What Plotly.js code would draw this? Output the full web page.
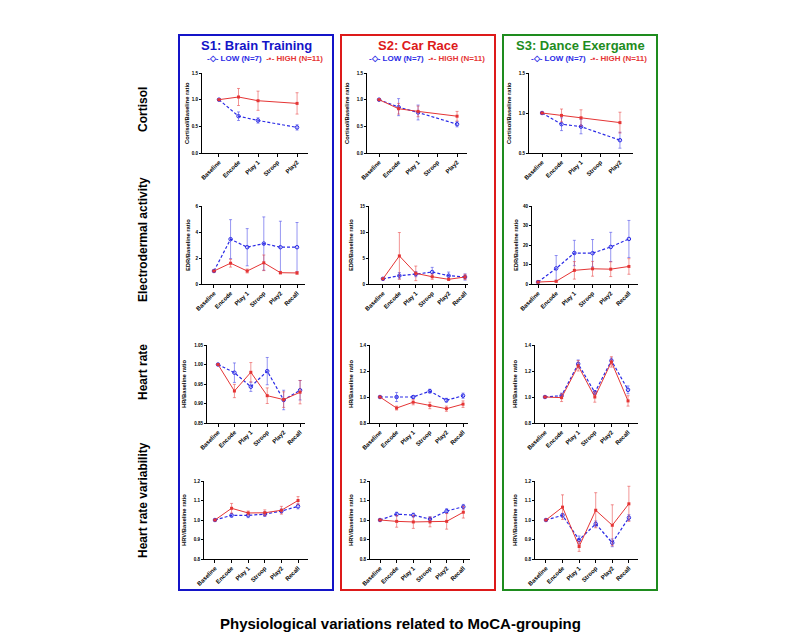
<!DOCTYPE html>
<html>
<head>
<meta charset="utf-8">
<script src="https://cdn.plot.ly/plotly-3.0.1.min.js"></script>
<style>html,body{margin:0;padding:0;background:#fff;}#chart{width:800px;height:641px;}</style>
</head>
<body>
<div id="chart"></div>
<script>
// ---------- DATA ----------
const catsCort = ['Baseline', 'Encode', 'Play 1', 'Stroop', 'Play2'];
const catsPhys = ['Baseline', 'Encode', 'Play 1', 'Stroop', 'Play2', 'Recall'];

const sessionTitles = ['S1: Brain Training', 'S2: Car Race', 'S3: Dance Exergame'];
const rowLabels = ['Cortisol', 'Electrodermal activity', 'Heart rate', 'Heart rate variability'];
const yTitles = ['Cortisol/Baseline ratio', 'EDR/Baseline ratio', 'HR/Baseline ratio', 'HRV/Baseline ratio'];
const legendLow = 'LOW (N=7)';
const legendHigh = 'HIGH (N=11)';
const figureTitle = 'Physiological variations related to MoCA-grouping';

// Cortisol
const cortS1Low = [1.0, 0.69, 0.61, null, 0.48];
const cortS1LowErr = [0, 0.08, 0.05, null, 0.05];
const cortS1High = [1.0, 1.05, 0.98, null, 0.93];
const cortS1HighErr = [0, 0.16, 0.18, null, 0.20];
const cortS2Low = [1.0, 0.86, 0.76, null, 0.54];
const cortS2LowErr = [0, 0.16, 0.14, null, 0.05];
const cortS2High = [1.0, 0.83, 0.78, null, 0.69];
const cortS2HighErr = [0, 0.10, 0.10, null, 0.09];
const cortS3Low = [1.0, 0.86, 0.83, null, 0.66];
const cortS3LowErr = [0, 0.08, 0.09, null, 0.10];
const cortS3High = [1.0, 0.97, 0.94, null, 0.88];
const cortS3HighErr = [0, 0.08, 0.10, null, 0.13];

// Electrodermal activity
const edrS1Low = [1.0, 3.45, 2.83, 3.11, 2.83, 2.83];
const edrS1LowErr = [0, 1.5, 1.43, 2.05, 2.0, 1.9];
const edrS1High = [1.0, 1.6, 1.0, 1.63, 0.87, 0.85];
const edrS1HighErr = [0, 0.3, 0.15, 0.6, 0.1, 0.1];
const edrS2Low = [1.0, 1.6, 1.9, 2.3, 1.6, 1.35];
const edrS2LowErr = [0, 0.6, 0.5, 0.9, 0.7, 0.6];
const edrS2High = [1.0, 5.4, 2.05, 1.4, 0.9, 1.35];
const edrS2HighErr = [0, 4.5, 1.4, 0.5, 0.2, 0.5];
const edrS3Low = [1.0, 8.0, 15.9, 15.8, 19.0, 23.1];
const edrS3LowErr = [0, 6.6, 6.5, 7.0, 7.5, 9.5];
const edrS3High = [1.0, 1.4, 7.0, 7.8, 7.6, 9.0];
const edrS3HighErr = [0, 0.5, 4.5, 3.8, 3.8, 4.0];

// Heart rate
const hrS1Low = [1.0, 0.979, 0.943, 0.983, 0.909, 0.934];
const hrS1LowErr = [0, 0.025, 0.012, 0.035, 0.025, 0.025];
const hrS1High = [1.0, 0.932, 0.98, 0.92, 0.91, 0.929];
const hrS1HighErr = [0, 0.017, 0.025, 0.02, 0.02, 0.03];
const hrS2Low = [1.0, 1.0, 1.0, 1.045, 0.975, 1.01];
const hrS2LowErr = [0, 0.035, 0.01, 0.015, 0.015, 0.02];
const hrS2High = [1.0, 0.915, 0.96, 0.935, 0.91, 0.945];
const hrS2HighErr = [0, 0.015, 0.02, 0.025, 0.02, 0.025];
const hrS3Low = [1.0, 1.01, 1.255, 1.035, 1.28, 1.055];
const hrS3LowErr = [0, 0.02, 0.03, 0.015, 0.02, 0.03];
const hrS3High = [1.0, 0.995, 1.24, 1.0, 1.27, 0.97];
const hrS3HighErr = [0, 0.03, 0.04, 0.04, 0.04, 0.04];

// Heart rate variability
const hrvS1Low = [1.0, 1.024, 1.024, 1.03, 1.046, 1.07];
const hrvS1LowErr = [0, 0.01, 0.012, 0.012, 0.01, 0.013];
const hrvS1High = [1.0, 1.06, 1.036, 1.037, 1.05, 1.1];
const hrvS1HighErr = [0, 0.025, 0.01, 0.015, 0.02, 0.02];
const hrvS2Low = [1.0, 1.03, 1.025, 1.005, 1.046, 1.068];
const hrvS2LowErr = [0, 0.01, 0.01, 0.012, 0.012, 0.012];
const hrvS2High = [1.0, 0.993, 0.99, 0.99, 0.993, 1.04];
const hrvS2HighErr = [0, 0.03, 0.033, 0.025, 0.04, 0.03];
const hrvS3Low = [1.0, 1.024, 0.898, 0.98, 0.883, 1.012];
const hrvS3LowErr = [0, 0.01, 0.02, 0.015, 0.02, 0.015];
const hrvS3High = [1.0, 1.066, 0.864, 1.05, 0.973, 1.083];
const hrvS3HighErr = [0, 0.063, 0.025, 0.09, 0.105, 0.09];

// ---------- STYLE / LAYOUT ----------
const FONT = 'Liberation Sans, Arial, sans-serif';
const BLUE = '#2a2ae6';
const RED = '#e53535';
const BLUE_ERR = 'rgba(60,60,230,0.6)';
const RED_ERR = 'rgba(230,60,60,0.6)';
const boxColors = ['#1414c8', '#dd1a1a', '#1e8c1e'];
const W = 800, H = 641;

const rowY = [[73, 153], [206, 284], [345, 423], [481, 559]];
// per panel: x-axis pixel extent, category range, y-title centre x
const geom = [
  [{px: [202, 308], cr: [-0.87, 4.56], tx: 187}, {px: [367, 467], cr: [-0.62, 4.51], tx: 347}, {px: [529, 633], cr: [-0.67, 4.67], tx: 509}],
  [{px: [202, 305], cr: [-0.72, 5.48], tx: 188}, {px: [369, 468], cr: [-0.85, 5.18], tx: 351}, {px: [532, 638], cr: [-0.33, 5.5], tx: 516}],
  [{px: [207, 305], cr: [-0.67, 5.3], tx: 184}, {px: [370, 468], cr: [-0.6, 5.3], tx: 351}, {px: [535, 638], cr: [-0.6, 5.6], tx: 515}],
  [{px: [204, 308], cr: [-0.66, 5.6], tx: 184}, {px: [370, 470], cr: [-0.6, 5.4], tx: 351}, {px: [535, 638], cr: [-0.66, 5.55], tx: 515}]
];

const panels = [
  [
    {cats: catsCort, low: cortS1Low, lowE: cortS1LowErr, high: cortS1High, highE: cortS1HighErr, yr: [0, 1.5], dt: 0.5, fmt: '.1f'},
    {cats: catsCort, low: cortS2Low, lowE: cortS2LowErr, high: cortS2High, highE: cortS2HighErr, yr: [0, 1.5], dt: 0.5, fmt: '.1f'},
    {cats: catsCort, low: cortS3Low, lowE: cortS3LowErr, high: cortS3High, highE: cortS3HighErr, yr: [0.5, 1.5], dt: 0.5, fmt: '.1f'}
  ],
  [
    {cats: catsPhys, low: edrS1Low, lowE: edrS1LowErr, high: edrS1High, highE: edrS1HighErr, yr: [0, 6], dt: 2, fmt: 'd'},
    {cats: catsPhys, low: edrS2Low, lowE: edrS2LowErr, high: edrS2High, highE: edrS2HighErr, yr: [0, 15], dt: 5, fmt: 'd'},
    {cats: catsPhys, low: edrS3Low, lowE: edrS3LowErr, high: edrS3High, highE: edrS3HighErr, yr: [0, 40], dt: 10, fmt: 'd'}
  ],
  [
    {cats: catsPhys, low: hrS1Low, lowE: hrS1LowErr, high: hrS1High, highE: hrS1HighErr, yr: [0.85, 1.05], dt: 0.05, fmt: '.2f'},
    {cats: catsPhys, low: hrS2Low, lowE: hrS2LowErr, high: hrS2High, highE: hrS2HighErr, yr: [0.8, 1.4], dt: 0.2, fmt: '.1f'},
    {cats: catsPhys, low: hrS3Low, lowE: hrS3LowErr, high: hrS3High, highE: hrS3HighErr, yr: [0.8, 1.4], dt: 0.2, fmt: '.1f'}
  ],
  [
    {cats: catsPhys, low: hrvS1Low, lowE: hrvS1LowErr, high: hrvS1High, highE: hrvS1HighErr, yr: [0.8, 1.2], dt: 0.1, fmt: '.1f'},
    {cats: catsPhys, low: hrvS2Low, lowE: hrvS2LowErr, high: hrvS2High, highE: hrvS2HighErr, yr: [0.8, 1.2], dt: 0.1, fmt: '.1f'},
    {cats: catsPhys, low: hrvS3Low, lowE: hrvS3LowErr, high: hrvS3High, highE: hrvS3HighErr, yr: [0.8, 1.2], dt: 0.1, fmt: '.1f'}
  ]
];

const traces = [];
const layout = {
  width: W, height: H,
  margin: {l: 0, r: 0, t: 0, b: 0},
  paper_bgcolor: '#fff', plot_bgcolor: 'rgba(0,0,0,0)',
  font: {family: FONT, color: '#000'},
  showlegend: false,
  shapes: [], annotations: []
};

let idx = 0;
for (let r = 0; r < 4; r++) {
  for (let c = 0; c < 3; c++) {
    idx++;
    const p = panels[r][c];
    const g = geom[r][c];
    const xa = idx === 1 ? 'xaxis' : 'xaxis' + idx;
    const ya = idx === 1 ? 'yaxis' : 'yaxis' + idx;
    const xr = idx === 1 ? 'x' : 'x' + idx;
    const yr = idx === 1 ? 'y' : 'y' + idx;
    layout[xa] = {
      domain: [g.px[0] / W, g.px[1] / W],
      anchor: yr, type: 'category', categoryorder: 'array', categoryarray: p.cats,
      range: g.cr,
      showline: true, linecolor: '#000', linewidth: 1, mirror: false,
      ticks: 'outside', ticklen: 2.5, tickwidth: 1, tickcolor: '#000',
      tickangle: -45, tickfont: {size: 6, family: FONT, weight: 'bold'},
      showgrid: false, zeroline: false, fixedrange: true, automargin: false
    };
    layout[ya] = {
      domain: [1 - rowY[r][1] / H, 1 - rowY[r][0] / H],
      anchor: xr, range: p.yr, dtick: p.dt, tick0: p.yr[0], tickformat: p.fmt,
      showline: true, linecolor: '#000', linewidth: 1,
      ticks: 'outside', ticklen: 2, tickwidth: 1, tickcolor: '#000',
      tickfont: {size: 4.6, family: FONT, weight: 'bold'},
      automargin: false,
      showgrid: false, zeroline: false, fixedrange: true
    };
    // y-axis title (placed as annotation for exact position)
    layout.annotations.push({
      xref: 'paper', yref: 'paper', x: g.tx / W, y: 1 - (rowY[r][0] + rowY[r][1]) / 2 / H,
      text: yTitles[r], showarrow: false, textangle: -90, xanchor: 'center', yanchor: 'middle',
      font: {size: 5.8, family: FONT, weight: 'bold', color: '#000'}
    });
    traces.push({
      type: 'scatter', mode: 'lines+markers', x: p.cats, y: p.low, xaxis: xr, yaxis: yr,
      connectgaps: true, name: legendLow,
      line: {color: BLUE, width: 1.2, dash: '3px,2px'},
      marker: {symbol: 'circle-open', size: 3.5, color: BLUE, line: {width: 1, color: BLUE}},
      error_y: {type: 'data', array: p.lowE, visible: true, color: BLUE_ERR, thickness: 0.9, width: 1.5}
    });
    traces.push({
      type: 'scatter', mode: 'lines+markers', x: p.cats, y: p.high, xaxis: xr, yaxis: yr,
      connectgaps: true, name: legendHigh,
      line: {color: RED, width: 1, dash: 'solid'},
      marker: {symbol: 'square', size: 3, color: RED},
      error_y: {type: 'data', array: p.highE, visible: true, color: RED_ERR, thickness: 0.9, width: 1.5}
    });
  }
}

// session boxes, titles, legends
const boxX = [[179, 333], [341, 495], [503, 657]];
for (let c = 0; c < 3; c++) {
  layout.shapes.push({
    type: 'rect', xref: 'paper', yref: 'paper',
    x0: boxX[c][0] / W, x1: boxX[c][1] / W, y0: 1 - 590 / H, y1: 1 - 35 / H,
    line: {color: boxColors[c], width: 2}, fillcolor: 'rgba(0,0,0,0)'
  });
  layout.annotations.push({
    xref: 'paper', yref: 'paper', x: (boxX[c][0] + boxX[c][1]) / 2 / W, y: 1 - 46 / H,
    text: sessionTitles[c], showarrow: false, xanchor: 'center', yanchor: 'middle',
    font: {size: 13, family: FONT, weight: 'bold', color: boxColors[c]}
  });
  layout.annotations.push({
    xref: 'paper', yref: 'paper', x: ((boxX[c][0] + boxX[c][1]) / 2 + 9) / W, y: 1 - 59 / H,
    text: '<span style="color:' + BLUE + '">-◇- ' + legendLow + '</span>  ' +
          '<span style="color:' + RED + '">-▪- ' + legendHigh + '</span>',
    showarrow: false, xanchor: 'center', yanchor: 'middle',
    font: {size: 8, family: FONT, weight: 'bold'}
  });
}

// row labels
const rowLabY = [110, 240, 372, 500];
for (let r = 0; r < 4; r++) {
  layout.annotations.push({
    xref: 'paper', yref: 'paper', x: 143 / W, y: 1 - rowLabY[r] / H,
    text: rowLabels[r], showarrow: false, textangle: -90, xanchor: 'center', yanchor: 'middle',
    font: {size: 12, family: FONT, weight: 'bold', color: '#000'}
  });
}

// figure title
layout.annotations.push({
  xref: 'paper', yref: 'paper', x: 400 / W, y: 1 - 623 / H,
  text: figureTitle, showarrow: false, xanchor: 'center', yanchor: 'middle',
  font: {size: 15, family: FONT, weight: 'bold', color: '#000'}
});

Plotly.newPlot('chart', traces, layout, {staticPlot: true, displayModeBar: false});
</script>
</body>
</html>
